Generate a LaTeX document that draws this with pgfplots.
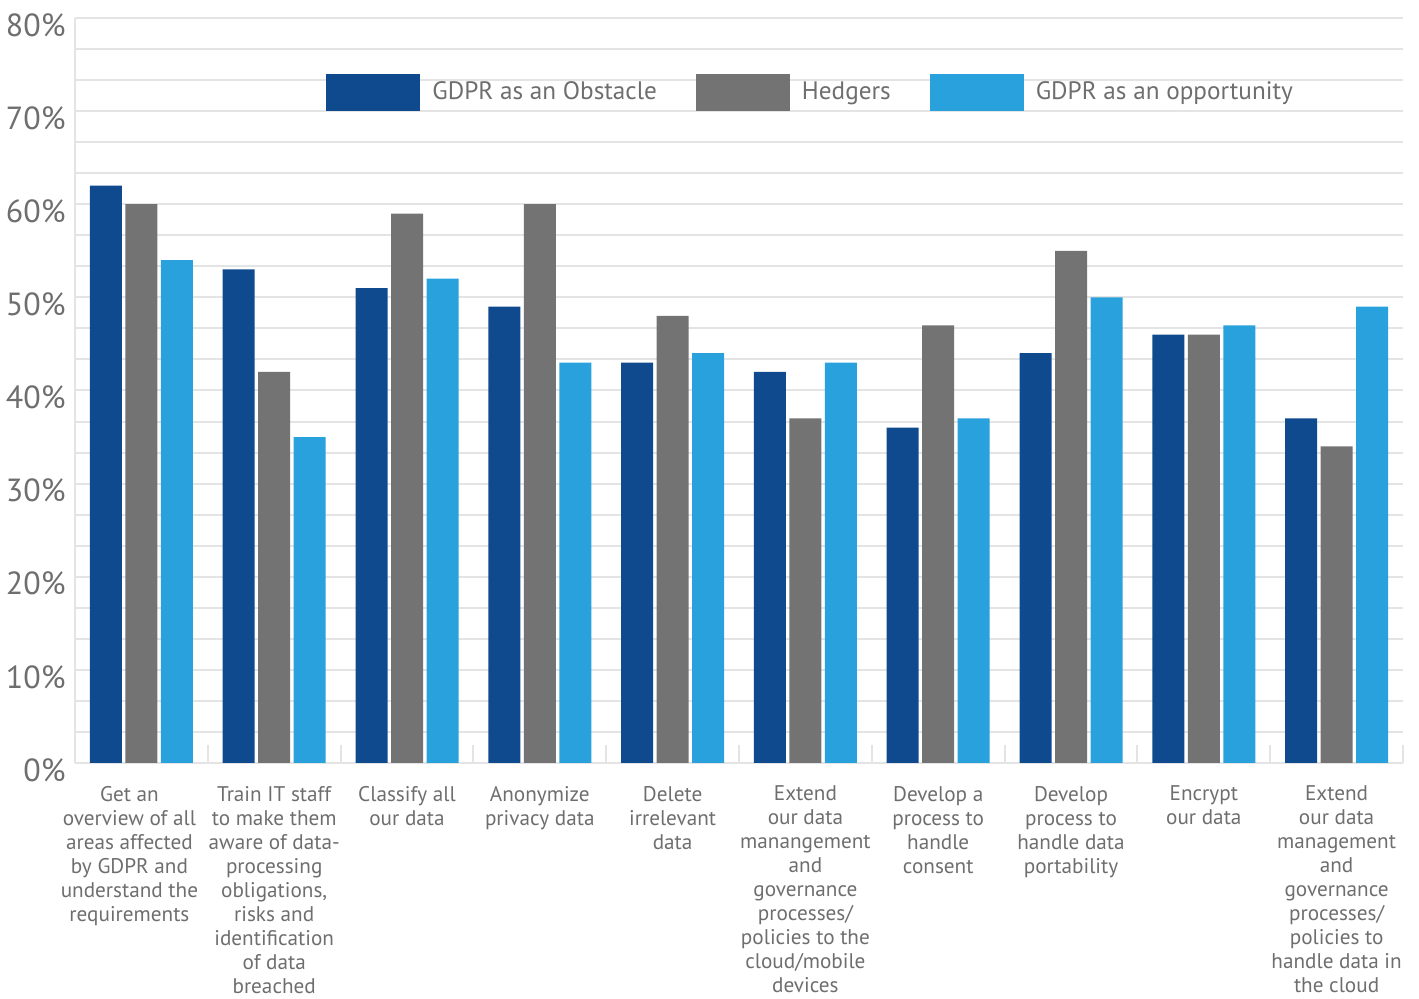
\documentclass[border=0pt]{standalone}
\usepackage{pgfplots}
\pgfplotsset{compat=1.18}
\usepackage{fontspec}
\setmainfont{PT Sans}
\definecolor{cObs}{HTML}{0F4A8F}
\definecolor{cHed}{HTML}{737373}
\definecolor{cOpp}{HTML}{29A1DC}
\definecolor{cTxt}{HTML}{6E6E6E}
\definecolor{cGrid}{HTML}{E4E4E4}
\newcommand{\sh}{\rule{12pt}{0pt}}
\begin{document}
\begin{tikzpicture}
\begin{axis}[
  name=ax,
  scale only axis,
  width=664pt, height=372.5pt,
  ybar=1.75pt, bar width=16pt,
  xmin=-0.5, xmax=9.5, ymin=0, ymax=80,
  axis x line*=bottom, axis y line*=left,
  axis line style={cGrid, line width=1pt},
  tick align=inside,
  major tick length=9pt,
  ytick={0,10,...,80},
  minor y tick num=2,
  ymajorgrids, yminorgrids,
  major grid style={cGrid, line width=1pt},
  minor grid style={cGrid, line width=1pt},
  ytick style={draw=none}, minor tick style={draw=none},
  yticklabel={\pgfmathprintnumber{\tick}\%},
  /pgf/number format/assume math mode=true,
  yticklabel style={font=\fontsize{16}{16}\selectfont, text=cTxt, anchor=east, inner sep=0pt, xshift=-4.5pt, yshift=-3.5pt},
  xtick={-0.5,0.5,...,9.5},
  x tick label as interval,
  xtick style={draw=cGrid, line width=1pt},
  xticklabels={
    {Get an\sh\\overview of all\sh\\areas affected\sh\\by GDPR and\sh\\understand the\sh\\requirements\sh},
    {Train IT staff\\to make them\\aware of data-\\processing\\obligations,\\risks and\\identification\\of data\\breached},
    {Classify all\\our data},
    {Anonymize\\privacy data},
    {Delete\\irrelevant\\data},
    {Extend\\our data\\manangement\\and\\governance\\processes/\\policies to the\\cloud/mobile\\devices},
    {Develop a\\process to\\handle\\consent},
    {Develop\\process to\\handle data\\portability},
    {Encrypt\\our data},
    {Extend\\our data\\management\\and\\governance\\processes/\\policies to\\handle data in\\the cloud},{}},
  xticklabel style={align=center, anchor=north, inner sep=0pt, yshift=-11.3pt, text=cTxt, font=\fontsize{10.6}{12}\selectfont},
  legend columns=3,
  legend style={at={(0.189,0.926)}, anchor=north west, draw=none, fill=none, inner sep=0pt,
    font=\fontsize{12.6}{12.6}\selectfont, text=cTxt,
    /tikz/every even column/.append style={column sep=17.5pt},
    /tikz/every odd column/.append style={column sep=4pt}},
  legend image code/.code={\fill[#1, draw=none] (0pt,-9.25pt) rectangle (47pt,9.25pt);},
  clip=false,
]
\addplot[fill=cObs, draw=none] coordinates {(0,62) (1,53) (2,51) (3,49) (4,43) (5,42) (6,36) (7,44) (8,46) (9,37)};
\addplot[fill=cHed, draw=none] coordinates {(0,60) (1,42) (2,59) (3,60) (4,48) (5,37) (6,47) (7,55) (8,46) (9,34)};
\addplot[fill=cOpp, draw=none] coordinates {(0,54) (1,35) (2,52) (3,43) (4,44) (5,43) (6,37) (7,50) (8,47) (9,49)};
\legend{GDPR as an Obstacle, Hedgers, GDPR as an opportunity}
\end{axis}
\path ([xshift=-37.5pt,yshift=-118pt]ax.south west) rectangle ([xshift=8pt,yshift=9pt]ax.north east);
\end{tikzpicture}
\end{document}
